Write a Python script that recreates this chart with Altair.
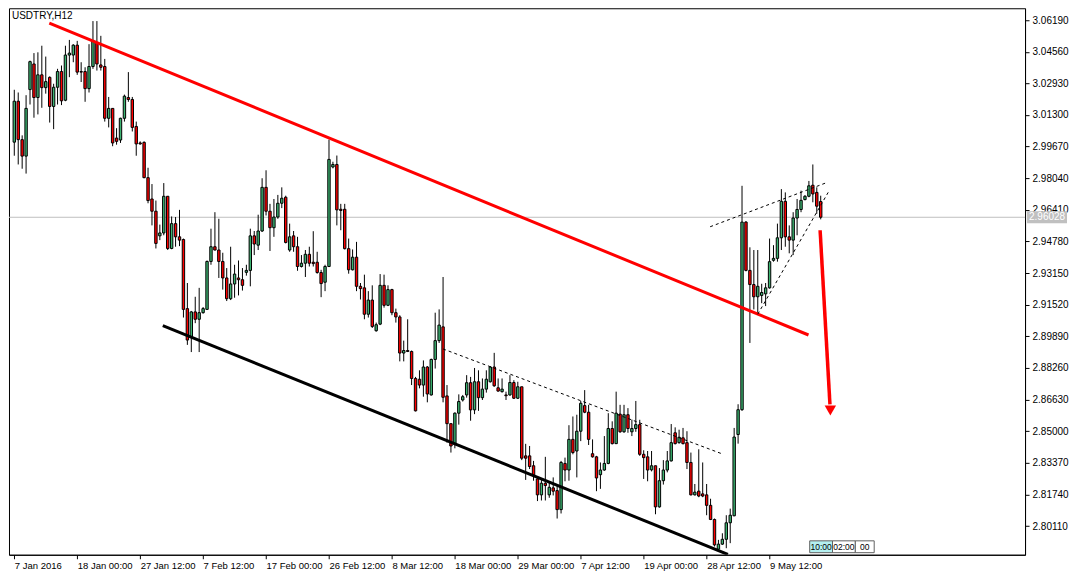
import json
import altair as alt
import pandas as pd

TITLE = "USDTRY,H12"

OPEN = [
    2.9990, 3.0201, 3.0003, 2.9918, 3.0261, 3.0393, 3.0220, 3.0337, 3.0271, 3.0324,
    3.0174, 3.0273, 3.0354, 3.0206, 3.0439, 3.0439, 3.0490, 3.0354, 3.0354, 3.0266,
    3.0380, 3.0504, 3.0388, 3.0380, 3.0113, 3.0164, 3.0011, 3.0001, 3.0113, 3.0220,
    3.0210, 3.0071, 2.9986, 2.9989, 2.9807, 2.9697, 2.9634, 2.9507, 2.9522, 2.9711,
    2.9442, 2.9570, 2.9502, 2.9488, 2.9132, 2.8987, 2.9115, 2.9077, 2.9111, 2.9128,
    2.9375, 2.9451, 2.9434, 2.9375, 2.9290, 2.9183, 2.9259, 2.9290, 2.9281, 2.9319,
    2.9329, 2.9507, 2.9459, 2.9532, 2.9757, 2.9634, 2.9549, 2.9604, 2.9675, 2.9706,
    2.9434, 2.9507, 2.9451, 2.9349, 2.9366, 2.9412, 2.9371, 2.9371, 2.9318, 2.9268,
    2.9349, 2.9862, 2.9875, 2.9644, 2.9644, 2.9441, 2.9332, 2.9397, 2.9247, 2.9239,
    2.9103, 2.9176, 2.9018, 2.9052, 2.9252, 2.9149, 2.9230, 2.9111, 2.9089, 2.8903,
    2.8916, 2.8911, 2.8772, 2.8768, 2.8738, 2.8831, 2.8687, 2.8870, 2.8967, 2.9038,
    2.8682, 2.8539, 2.8432, 2.8593, 2.8661, 2.8687, 2.8750, 2.8610, 2.8755, 2.8673,
    2.8717, 2.8755, 2.8831, 2.8724, 2.8704, 2.8687, 2.8687, 2.8751, 2.8670, 2.8729,
    2.8373, 2.8373, 2.8322, 2.8254, 2.8172, 2.8232, 2.8172, 2.8208, 2.8194, 2.8096,
    2.8334, 2.8300, 2.8458, 2.8398, 2.8500, 2.8632, 2.8598, 2.8384, 2.8368, 2.8276,
    2.8300, 2.8334, 2.8514, 2.8436, 2.8588, 2.8497, 2.8585, 2.8497, 2.8514, 2.8534,
    2.8381, 2.8368, 2.8301, 2.8322, 2.8110, 2.8245, 2.8300, 2.8347, 2.8492, 2.8441,
    2.8466, 2.8441, 2.8339, 2.8172, 2.8191, 2.8177, 2.8172, 2.8118, 2.8045, 2.7892,
    2.7918, 2.7943, 2.8028, 2.8064, 2.8483, 2.8611, 2.9578, 2.9329, 2.9256, 2.9193,
    2.9200, 2.9208, 2.9239, 2.9381, 2.9391, 2.9497, 2.9685, 2.9502, 2.9485, 2.9599,
    2.9643, 2.9694, 2.9711, 2.9768, 2.9731, 2.9684,
]

HIGH = [
    3.0260, 3.0246, 3.0025, 3.0232, 3.0410, 3.0449, 3.0453, 3.0487, 3.0431, 3.0329,
    3.0291, 3.0368, 3.0385, 3.0487, 3.0517, 3.0495, 3.0512, 3.0402, 3.0376, 3.0495,
    3.0614, 3.0614, 3.0538, 3.0419, 3.0223, 3.0164, 3.0062, 3.0116, 3.0235, 3.0351,
    3.0223, 3.0096, 2.9994, 2.9994, 2.9858, 2.9774, 2.9689, 2.9565, 2.9779, 2.9711,
    2.9607, 2.9604, 2.9641, 2.9493, 2.9264, 2.9120, 2.9193, 2.9239, 2.9140, 2.9380,
    2.9544, 2.9629, 2.9595, 2.9420, 2.9341, 2.9451, 2.9358, 2.9380, 2.9341, 2.9358,
    2.9544, 2.9532, 2.9616, 2.9804, 2.9845, 2.9672, 2.9697, 2.9718, 2.9757, 2.9714,
    2.9570, 2.9532, 2.9502, 2.9408, 2.9434, 2.9451, 2.9531, 2.9425, 2.9332, 2.9358,
    3.0003, 2.9889, 2.9921, 2.9672, 2.9672, 2.9493, 2.9437, 2.9476, 2.9264, 2.9307,
    2.9222, 2.9252, 2.9060, 2.9310, 2.9307, 2.9252, 2.9234, 2.9132, 2.9098, 2.8967,
    2.9077, 2.8916, 2.8780, 2.8814, 2.8865, 2.8836, 2.8874, 2.9111, 2.9128, 2.9295,
    2.8738, 2.8539, 2.8597, 2.8690, 2.8687, 2.8789, 2.8780, 2.8826, 2.8814, 2.8772,
    2.8814, 2.8836, 2.8904, 2.8772, 2.8772, 2.8704, 2.8789, 2.8763, 2.8755, 2.8729,
    2.8435, 2.8424, 2.8347, 2.8266, 2.8254, 2.8368, 2.8237, 2.8262, 2.8220, 2.8347,
    2.8364, 2.8531, 2.8576, 2.8585, 2.8656, 2.8712, 2.8636, 2.8458, 2.8373, 2.8339,
    2.8475, 2.8593, 2.8551, 2.8704, 2.8636, 2.8636, 2.8619, 2.8560, 2.8656, 2.8559,
    2.8402, 2.8398, 2.8398, 2.8322, 2.8310, 2.8351, 2.8398, 2.8537, 2.8520, 2.8508,
    2.8517, 2.8500, 2.8390, 2.8228, 2.8407, 2.8339, 2.8228, 2.8152, 2.8050, 2.7940,
    2.7974, 2.8067, 2.8101, 2.8517, 2.8639, 2.9765, 2.9583, 2.9448, 2.9434, 2.9434,
    2.9260, 2.9264, 2.9493, 2.9459, 2.9570, 2.9748, 2.9731, 2.9561, 2.9629, 2.9697,
    2.9740, 2.9717, 2.9790, 2.9875, 2.9757, 2.9714,
]

LOW = [
    2.9920, 2.9875, 2.9853, 2.9828, 3.0184, 3.0116, 3.0133, 3.0167, 3.0240, 3.0091,
    3.0057, 3.0184, 3.0181, 3.0201, 3.0325, 3.0402, 3.0337, 3.0300, 3.0198, 3.0246,
    3.0368, 3.0359, 3.0359, 3.0096, 3.0066, 2.9969, 2.9977, 2.9986, 3.0096, 3.0198,
    3.0045, 2.9920, 2.9977, 2.9804, 2.9675, 2.9561, 2.9442, 2.9485, 2.9510, 2.9434,
    2.9438, 2.9451, 2.9454, 2.9086, 2.8945, 2.8908, 2.9057, 2.8908, 2.9106, 2.9125,
    2.9358, 2.9432, 2.9290, 2.9230, 2.9171, 2.9176, 2.9188, 2.9200, 2.9225, 2.9302,
    2.9247, 2.9408, 2.9434, 2.9527, 2.9612, 2.9429, 2.9502, 2.9595, 2.9650, 2.9468,
    2.9425, 2.9425, 2.9327, 2.9344, 2.9295, 2.9349, 2.9349, 2.9312, 2.9191, 2.9222,
    2.9346, 2.9855, 2.9561, 2.9536, 2.9437, 2.9312, 2.9329, 2.9222, 2.9179, 2.9077,
    2.9086, 2.9032, 2.9013, 2.9047, 2.9137, 2.9145, 2.9098, 2.9060, 2.8860, 2.8860,
    2.8908, 2.8738, 2.8602, 2.8721, 2.8678, 2.8649, 2.8684, 2.8823, 2.8955, 2.8649,
    2.8441, 2.8390, 2.8412, 2.8534, 2.8653, 2.8673, 2.8554, 2.8588, 2.8605, 2.8661,
    2.8699, 2.8751, 2.8729, 2.8704, 2.8699, 2.8661, 2.8683, 2.8666, 2.8666, 2.8351,
    2.8249, 2.8305, 2.8245, 2.8140, 2.8143, 2.8143, 2.8157, 2.8169, 2.8050, 2.8076,
    2.8242, 2.8245, 2.8381, 2.8262, 2.8449, 2.8593, 2.8429, 2.8364, 2.8191, 2.8203,
    2.8296, 2.8330, 2.8432, 2.8434, 2.8492, 2.8492, 2.8492, 2.8475, 2.8497, 2.8373,
    2.8254, 2.8242, 2.8293, 2.8072, 2.8106, 2.8225, 2.8288, 2.8344, 2.8432, 2.8436,
    2.8432, 2.8305, 2.8169, 2.8169, 2.8160, 2.8160, 2.8067, 2.8042, 2.7906, 2.7889,
    2.7914, 2.7897, 2.7923, 2.8062, 2.8436, 2.8605, 2.9324, 2.8955, 2.9128, 2.9103,
    2.9160, 2.9145, 2.9235, 2.9374, 2.9374, 2.9434, 2.9451, 2.9417, 2.9408, 2.9510,
    2.9629, 2.9690, 2.9706, 2.9680, 2.9621, 2.9592,
]

CLOSE = [
    3.0201, 3.0003, 2.9918, 3.0164, 3.0405, 3.0220, 3.0337, 3.0271, 3.0302, 3.0174,
    3.0273, 3.0354, 3.0203, 3.0439, 3.0449, 3.0490, 3.0351, 3.0351, 3.0266, 3.0380,
    3.0512, 3.0393, 3.0376, 3.0113, 3.0164, 2.9986, 2.9994, 3.0113, 3.0227, 3.0210,
    3.0066, 2.9981, 2.9981, 2.9807, 2.9689, 2.9634, 2.9468, 2.9522, 2.9711, 2.9442,
    2.9570, 2.9502, 2.9485, 2.9128, 2.8970, 2.9115, 2.9077, 2.9111, 2.9132, 2.9375,
    2.9451, 2.9434, 2.9375, 2.9290, 2.9183, 2.9259, 2.9310, 2.9281, 2.9252, 2.9329,
    2.9507, 2.9465, 2.9532, 2.9757, 2.9634, 2.9549, 2.9604, 2.9675, 2.9701, 2.9473,
    2.9502, 2.9451, 2.9349, 2.9366, 2.9412, 2.9366, 2.9364, 2.9318, 2.9261, 2.9349,
    2.9901, 2.9875, 2.9641, 2.9638, 2.9441, 2.9332, 2.9397, 2.9247, 2.9235, 2.9103,
    2.9176, 2.9040, 2.9049, 2.9252, 2.9149, 2.9230, 2.9111, 2.9089, 2.8903, 2.8916,
    2.8911, 2.8772, 2.8605, 2.8738, 2.8831, 2.8692, 2.8870, 2.8967, 2.9047, 2.8675,
    2.8539, 2.8424, 2.8593, 2.8653, 2.8678, 2.8750, 2.8610, 2.8755, 2.8673, 2.8717,
    2.8768, 2.8831, 2.8734, 2.8707, 2.8717, 2.8683, 2.8751, 2.8670, 2.8729, 2.8361,
    2.8361, 2.8318, 2.8271, 2.8172, 2.8232, 2.8220, 2.8211, 2.8191, 2.8096, 2.8339,
    2.8300, 2.8458, 2.8390, 2.8500, 2.8644, 2.8598, 2.8458, 2.8368, 2.8259, 2.8300,
    2.8334, 2.8514, 2.8436, 2.8593, 2.8497, 2.8585, 2.8514, 2.8514, 2.8534, 2.8381,
    2.8364, 2.8300, 2.8322, 2.8110, 2.8245, 2.8300, 2.8347, 2.8441, 2.8436, 2.8469,
    2.8436, 2.8339, 2.8172, 2.8186, 2.8166, 2.8166, 2.8118, 2.8045, 2.7914, 2.7918,
    2.7943, 2.8028, 2.8067, 2.8470, 2.8611, 2.9578, 2.9329, 2.9256, 2.9193, 2.9247,
    2.9215, 2.9239, 2.9374, 2.9391, 2.9497, 2.9685, 2.9502, 2.9485, 2.9599, 2.9643,
    2.9690, 2.9711, 2.9765, 2.9723, 2.9660, 2.9603,
]

X_TICK_BARS = [0, 16, 32, 48, 64, 80, 96, 112, 128, 144, 160, 176, 192]
X_TICK_LABELS = ["7 Jan 2016", "18 Jan 00:00", "27 Jan 12:00", "7 Feb 12:00",
                 "17 Feb 00:00", "26 Feb 12:00", "8 Mar 12:00", "18 Mar 00:00",
                 "29 Mar 00:00", "7 Apr 12:00", "19 Apr 00:00", "28 Apr 12:00",
                 "9 May 12:00"]
Y_TICKS = [3.06190, 3.04560, 3.02930, 3.01300, 2.99670, 2.98040, 2.96410,
           2.94780, 2.93150, 2.91520, 2.89890, 2.88260, 2.86630, 2.85000,
           2.83370, 2.81740, 2.80110]
LAST_PRICE = 2.96028
LAST_LABEL = "2.96028"

X_DOMAIN = [-0.075, 255.675]
Y_DOMAIN = [2.78633, 3.06801]

# trendlines (bar index, price)
RED_LINE_BAR = [8.9, 201.9]
RED_LINE_PRICE = [3.0604, 2.8996]
BLACK_LINE_BAR = [37.75, 181.4]
BLACK_LINE_PRICE = [2.9044, 2.7865]
DASH_SEG = ["a", "a", "b", "b", "c", "c"]
DASH_BAR = [109.0, 179.85, 176.9, 206.2, 189.0, 206.9]
DASH_PRICE = [2.8924, 2.8384, 2.9554, 2.9779, 2.9103, 2.9731]
ARROW_BAR = [204.85, 207.35]
ARROW_PRICE = [2.9536, 2.8638]
ARROW_HEAD = (207.45, 2.8607)

# time scale boxes at the bottom right (bar range, price range, text, fill)
TIME_BOX_TEXT = ["10:00", "02:00", "00"]
TIME_BOX_BAR0 = [202.2, 208.0, 213.8]
TIME_BOX_BAR1 = [208.0, 213.8, 218.6]
TIME_BOX_FILL = ["#b4f0f0", "#ffffff", "#ffffff"]
TIME_BOX_PRICE = (2.7874, 2.7935)

GREEN = "#3cb371"
RED = "#ff0000"
FONT = "Liberation Sans"

df = pd.DataFrame({"i": list(range(len(OPEN))), "open": OPEN, "high": HIGH,
                   "low": LOW, "close": CLOSE})
df["dir"] = ["up" if c >= o else "down" for o, c in zip(OPEN, CLOSE)]

xs = alt.Scale(domain=X_DOMAIN, nice=False, zero=False)
ys = alt.Scale(domain=Y_DOMAIN, nice=False, zero=False)

label_expr = "%s[round(datum.value/16)]" % json.dumps(X_TICK_LABELS)

x_axis = alt.Axis(values=X_TICK_BARS, labelExpr=label_expr, labelAlign="left",
                  labelBaseline="top", tickSize=4, labelPadding=2, grid=False,
                  title=None, labelFlush=False, labelOverlap=False, labelFontSize=9.5)
y_axis = alt.Axis(orient="right", values=Y_TICKS, format=".5f", tickSize=4,
                  labelPadding=3, grid=False, title=None, labelFlush=False,
                  labelOverlap=False, labelFontSize=10)


def X(field):
    return alt.X(field, scale=xs, axis=x_axis)


def Y(field):
    return alt.Y(field, scale=ys, axis=y_axis)


base = alt.Chart(df)

wicks = base.mark_rule(color="black", strokeWidth=1).encode(
    x=X("i:Q"), y=Y("low:Q"), y2="high:Q")

bodies = base.mark_bar(width=2.4, stroke="black", strokeWidth=1).encode(
    x=X("i:Q"), y=Y("open:Q"), y2="close:Q",
    color=alt.Color("dir:N", scale=alt.Scale(domain=["up", "down"], range=[GREEN, RED]),
                    legend=None),
)

last_line = alt.Chart(pd.DataFrame({"p": [LAST_PRICE]})).mark_rule(
    color="#c0c0c0", strokeWidth=1).encode(y=Y("p:Q"))

red_df = pd.DataFrame({"bar": RED_LINE_BAR, "price": RED_LINE_PRICE})
red_line = alt.Chart(red_df).mark_line(color=RED, strokeWidth=3, clip=True).encode(
    x=X("bar:Q"), y=Y("price:Q"))

blk_df = pd.DataFrame({"bar": BLACK_LINE_BAR, "price": BLACK_LINE_PRICE})
black_line = alt.Chart(blk_df).mark_line(color="black", strokeWidth=3, clip=True).encode(
    x=X("bar:Q"), y=Y("price:Q"))

dash_df = pd.DataFrame({"seg": DASH_SEG, "bar": DASH_BAR, "price": DASH_PRICE})
dash_lines = alt.Chart(dash_df).mark_line(color="black", strokeWidth=1,
                                          strokeDash=[3, 3], clip=True).encode(
    x=X("bar:Q"), y=Y("price:Q"), detail="seg:N")

arr_df = pd.DataFrame({"bar": ARROW_BAR, "price": ARROW_PRICE})
arrow_line = alt.Chart(arr_df).mark_line(color=RED, strokeWidth=3.5).encode(
    x=X("bar:Q"), y=Y("price:Q"))
head_df = pd.DataFrame({"bar": [ARROW_HEAD[0]], "price": [ARROW_HEAD[1]]})
arrow_head = alt.Chart(head_df).mark_point(shape="triangle-down", filled=True,
                                           color=RED, size=130, opacity=1).encode(
    x=X("bar:Q"), y=Y("price:Q"))

title_txt = alt.Chart(pd.DataFrame({"t": [TITLE]})).mark_text(
    align="left", baseline="top", font=FONT, fontSize=10, color="black").encode(
    x=alt.value(3), y=alt.value(3), text="t:N")

price_box = alt.Chart(pd.DataFrame({"p": [LAST_PRICE]})).transform_calculate(
    top="datum.p + 0.0031", bot="datum.p - 0.0031").mark_rect(
    color="#c0c0c0", clip=False).encode(
    x=alt.value(1019), x2=alt.value(1059), y=Y("top:Q"), y2="bot:Q")
price_txt = alt.Chart(pd.DataFrame({"p": [LAST_PRICE], "t": [LAST_LABEL]})).mark_text(
    align="left", baseline="middle", font=FONT, fontSize=10, color="white", clip=False).encode(
    x=alt.value(1021), y=Y("p:Q"), text="t:N")

tb_df = pd.DataFrame({"t": TIME_BOX_TEXT, "b0": TIME_BOX_BAR0, "b1": TIME_BOX_BAR1,
                      "fill": TIME_BOX_FILL})
tb_df["p0"] = TIME_BOX_PRICE[0]
tb_df["p1"] = TIME_BOX_PRICE[1]
tb_df["bm"] = (tb_df["b0"] + tb_df["b1"]) / 2
tb_df["pm"] = (tb_df["p0"] + tb_df["p1"]) / 2
time_boxes = alt.Chart(tb_df).mark_rect(stroke="#606060", strokeWidth=1).encode(
    x=X("b0:Q"), x2="b1:Q", y=Y("p0:Q"), y2="p1:Q",
    fill=alt.Fill("fill:N", scale=None))
time_txt = alt.Chart(tb_df).mark_text(font=FONT, fontSize=8.5, color="black",
                                      align="center", baseline="middle").encode(
    x=X("bm:Q"), y=Y("pm:Q"), text="t:N")

chart = alt.layer(
    last_line, wicks, bodies, red_line, black_line, dash_lines, arrow_line,
    arrow_head, title_txt, time_boxes, time_txt, price_box, price_txt,
).properties(width=1017, height=547, padding=0).configure_view(
    stroke="black", strokeWidth=1
).configure_axis(
    labelFont=FONT, labelColor="black", tickColor="black",
    domainColor="black", domainWidth=1, tickWidth=1
)

chart.save("out.html", embed_options={"renderer": "svg", "actions": False})
